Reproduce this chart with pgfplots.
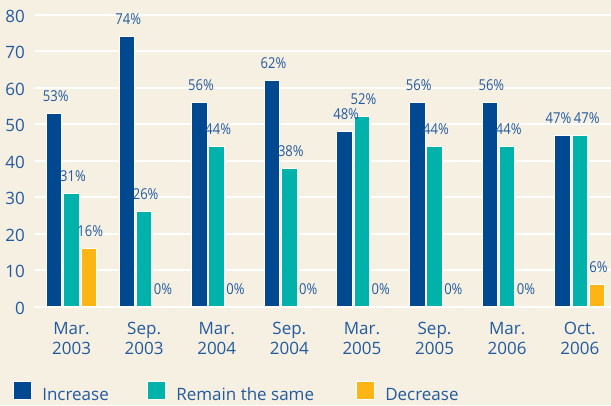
\documentclass[border=0pt]{standalone}
\usepackage{fontspec}
\setmainfont{Open Sans}
\newfontfamily\condfont[FakeStretch=0.87]{Open Sans}
\usepackage{pgfplots}
\pgfplotsset{compat=1.18}

\definecolor{bg}{RGB}{245,240,225}
\definecolor{txt}{RGB}{35,90,160}
\definecolor{cInc}{RGB}{0,73,144}
\definecolor{cSame}{RGB}{0,178,169}
\definecolor{cDec}{RGB}{253,181,21}

\begin{document}
\begin{tikzpicture}
\fill[bg] (0,0) rectangle (611pt,405pt);
\begin{axis}[
    scale only axis,
    width=576pt, height=292pt,
    at={(35pt,98.3pt)}, anchor=south west,
    ybar=1.8pt,
    bar width=15.5pt,
    xmin=-0.503, xmax=7.43,
    ymin=0, ymax=80,
    ytick={0,10,...,80},
    xtick=data,
    xticklabels={{Mar.\\2003},{Sep.\\2003},{Mar.\\2004},{Sep.\\2004},{Mar.\\2005},{Sep.\\2005},{Mar.\\2006},{Oct.\\2006}},
    axis line style={draw=none},
    major tick style={draw=none},
    ymajorgrids=true,
    major grid style={white, line width=2pt},
    /pgf/number format/assume math mode=true,
    tick label style={font=\fontsize{17}{20}\selectfont, text=txt},
    xticklabel style={align=center, inner sep=0pt, yshift=-11pt},
    yticklabel style={inner sep=0pt, xshift=-10pt, yshift=-1.5pt},
    clip=false,
    point meta=explicit symbolic,
    nodes near coords={\pgfplotspointmeta},
    every node near coord/.append style={font=\condfont\fontsize{15}{18}\selectfont, text=txt, anchor=base, inner sep=0pt, yshift=12pt, xshift=1.5pt},
    legend style={at={(axis description cs:-0.038,-0.253)}, anchor=north west, draw=none, fill=none, inner sep=0pt,
        font=\fontsize{17}{20}\selectfont, text=txt, nodes={inner sep=0pt},
        /tikz/every odd column/.append style={column sep=10pt}},
    legend columns=3,
    legend image code/.code={\draw[#1, draw=white, line width=1pt] (0pt,-4pt) rectangle (18pt,14pt);},
]
\addplot[fill=cInc, draw=white, line width=1pt] coordinates {
    (0,53) [53\%] (1,74) [74\%] (2,56) [56\%] (3,62) [62\%]
    (4,48) [48\%] (5,56) [56\%] (6,56) [56\%] (7,47) [47\%\hspace*{11pt}]};
\addplot[fill=cSame, draw=white, line width=1pt] coordinates {
    (0,31) [31\%] (1,26) [26\%] (2,44) [44\%] (3,38) [38\%]
    (4,52) [52\%] (5,44) [44\%] (6,44) [44\%] (7,47) [\hspace*{11pt}47\%]};
\addplot[fill=cDec, draw=white, line width=1pt] coordinates {
    (0,16) [16\%] (1,0) [0\%] (2,0) [0\%] (3,0) [0\%]
    (4,0) [0\%] (5,0) [0\%] (6,0) [0\%] (7,6) [6\%]};
\legend{\makebox[105pt][l]{Increase},\makebox[180pt][l]{Remain the same},Decrease}
\end{axis}
\pgfresetboundingbox
\useasboundingbox (0,0) rectangle (611pt,405pt);
\end{tikzpicture}
\end{document}
